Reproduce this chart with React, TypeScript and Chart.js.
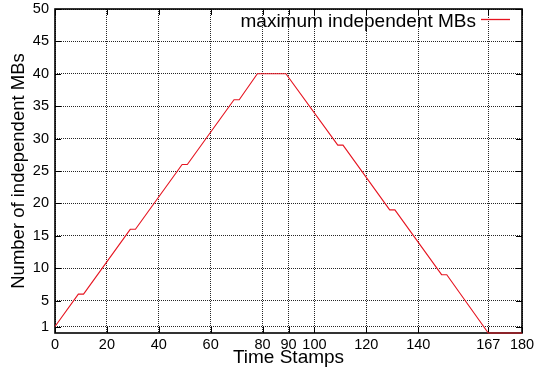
import React, { useEffect, useRef } from "react";
import { Chart, registerables } from "chart.js";

Chart.register(...registerables);

const timeStamps = [0, 9, 11, 29, 31, 49, 51, 69, 71, 78, 89, 109, 111, 129, 131, 149, 151, 167, 180];
const independentMBs = [1, 6, 6, 16, 16, 26, 26, 36, 36, 40, 40, 29, 29, 19, 19, 9, 9, 0, 0];
const xTickValues = [0, 20, 40, 60, 80, 90, 100, 120, 140, 167, 180];
const yTickValues = [1, 5, 10, 15, 20, 25, 30, 35, 40, 45, 50];
const seriesLabel = "maximum independent MBs";
const xTitle = "Time Stamps";
const yTitle = "Number of independent MBs";

const FONT = "'Liberation Sans', Arial, Helvetica, sans-serif";
const LINE_COLOR = "rgb(230, 20, 32)";

const framePlugin = {
  id: "gnuFrame",
  beforeDatasetsDraw(chart: any) {
    const { ctx, chartArea } = chart;
    const { left, right, top, bottom } = chartArea;
    const xs = chart.scales.x;
    const ys = chart.scales.y;
    ctx.save();
    ctx.strokeStyle = "#000";
    ctx.lineWidth = 1;
    ctx.setLineDash([]);
    const tl = 6;
    ctx.beginPath();
    xTickValues.forEach((v) => {
      const px = Math.round(xs.getPixelForValue(v)) + 0.5;
      ctx.moveTo(px, bottom);
      ctx.lineTo(px, bottom - tl);
      ctx.moveTo(px, top);
      ctx.lineTo(px, top + tl);
    });
    yTickValues.forEach((v) => {
      const py = Math.round(ys.getPixelForValue(v)) + 0.5;
      ctx.moveTo(left, py);
      ctx.lineTo(left + tl, py);
      ctx.moveTo(right, py);
      ctx.lineTo(right - tl, py);
    });
    ctx.stroke();
    ctx.lineWidth = 1.6;
    ctx.strokeRect(left, top, right - left, bottom - top);
    ctx.restore();
  },
  afterDraw(chart: any) {
    const { ctx, chartArea } = chart;
    const label = chart.data.datasets[0].label;
    const textRight = chartArea.right - 46;
    const baseY = chartArea.top + 18;
    ctx.save();
    ctx.setLineDash([]);
    ctx.font = `19px ${FONT}`;
    ctx.fillStyle = "#000";
    ctx.textAlign = "right";
    ctx.textBaseline = "alphabetic";
    ctx.fillText(label, textRight, baseY);
    ctx.strokeStyle = LINE_COLOR;
    ctx.lineWidth = 1.3;
    ctx.beginPath();
    ctx.moveTo(textRight + 5, chartArea.top + 10.5);
    ctx.lineTo(textRight + 34, chartArea.top + 10.5);
    ctx.stroke();
    ctx.restore();
  },
};

export default function App() {
  const canvasRef = useRef<HTMLCanvasElement | null>(null);

  useEffect(() => {
    const canvas = canvasRef.current;
    if (!canvas) return;
    const chart = new Chart(canvas, {
      type: "line",
      data: {
        datasets: [
          {
            label: seriesLabel,
            data: timeStamps.map((t, i) => ({ x: t, y: independentMBs[i] })),
            borderColor: LINE_COLOR,
            backgroundColor: LINE_COLOR,
            borderWidth: 1.1,
            pointRadius: 0,
            tension: 0,
            clip: 3,
          },
        ],
      },
      options: {
        animation: false,
        responsive: false,
        devicePixelRatio: 1,
        layout: { padding: { top: 9, right: 16, left: 0, bottom: 0 } },
        plugins: {
          legend: { display: false },
          tooltip: { enabled: false },
        },
        scales: {
          x: {
            type: "linear",
            min: 0,
            max: 180,
            afterBuildTicks: (scale: any) => {
              scale.ticks = xTickValues.map((v) => ({ value: v }));
            },
            afterFit: (scale: any) => {
              scale.height = 41;
              scale.paddingLeft = 0;
              scale.paddingRight = 0;
            },
            ticks: {
              autoSkip: false,
              maxRotation: 0,
              padding: 3,
              color: "#000",
              font: { family: FONT, size: 14.5 },
              callback: (v: any) => String(v),
            },
            grid: { color: "rgba(0,0,0,0.85)", lineWidth: 1, drawTicks: false },
            border: { display: false, dash: [1, 1] },
            title: {
              display: true,
              text: xTitle,
              color: "#000",
              font: { family: FONT, size: 19 },
              padding: { top: 0, bottom: 5 },
            },
          },
          y: {
            type: "linear",
            min: 0,
            max: 50,
            afterBuildTicks: (scale: any) => {
              scale.ticks = yTickValues.map((v) => ({ value: v }));
            },
            afterFit: (scale: any) => {
              scale.width = 55;
              scale.paddingTop = 0;
              scale.paddingBottom = 0;
            },
            ticks: {
              autoSkip: false,
              padding: 6,
              color: "#000",
              font: { family: FONT, size: 14.5 },
              callback: (v: any) => String(v),
            },
            grid: { color: "rgba(0,0,0,0.85)", lineWidth: 1, drawTicks: false },
            border: { display: false, dash: [1, 1] },
            title: {
              display: true,
              text: yTitle,
              color: "#000",
              font: { family: FONT, size: 18.5 },
              padding: { top: 8, bottom: 0 },
            },
          },
        },
      },
      plugins: [framePlugin],
    });
    return () => chart.destroy();
  }, []);

  return (
    <div style={{ position: "absolute", left: 0, top: 0, width: 538, height: 374, background: "#fff" }}>
      <canvas ref={canvasRef} width={538} height={374} style={{ display: "block" }} />
    </div>
  );
}
